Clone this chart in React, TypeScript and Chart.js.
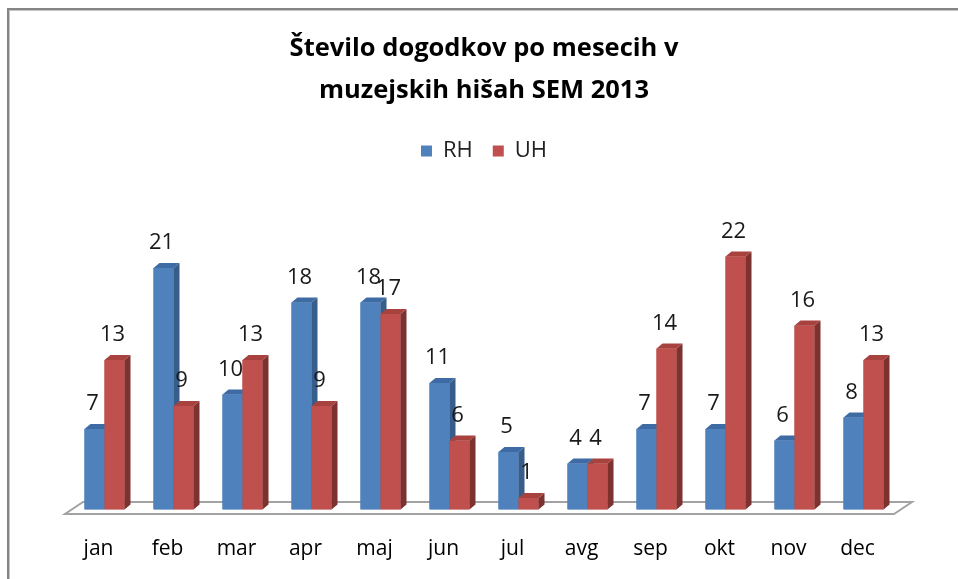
import React, { useEffect, useRef } from "react";
import { Chart, registerables } from "chart.js";

Chart.register(...registerables);

const TITLE_LINES = ["Število dogodkov po mesecih v", "muzejskih hišah SEM 2013"];
const CATEGORIES = ["jan", "feb", "mar", "apr", "maj", "jun", "jul", "avg", "sep", "okt", "nov", "dec"];
const SERIES_NAMES = ["RH", "UH"];
const RH_VALUES = [7, 21, 10, 18, 18, 11, 5, 4, 7, 7, 6, 8];
const UH_VALUES = [13, 9, 13, 9, 17, 6, 1, 4, 14, 22, 16, 13];
const Y_MIN = 0;
const Y_MAX = 25;

const FONT = "'Open Sans', 'DejaVu Sans', sans-serif";
const FACES = [
  { front: "#4F81BD", side: "#385D8A", top: "#3E6BA3" },
  { front: "#C0504D", side: "#7E3230", top: "#A7423F" },
];
const DEPTH_X = 6;
const DEPTH_Y = 5;
const X_AXIS_H = 69.5;
const LEGEND_GAP = 50;

const bar3dPlugin = {
  id: "bar3d",
  beforeDatasetsDraw(chart: any) {
    const { ctx, chartArea, scales } = chart;
    const y0 = scales.y.getPixelForValue(0);
    const fl = chartArea.left - 5;
    const fr = chartArea.right - 4;
    const fy = y0 + 4.5;
    const by = y0 - 7.5;
    const dx = 18;
    ctx.save();
    ctx.fillStyle = "#ffffff";
    ctx.strokeStyle = "#A3A3A3";
    ctx.lineWidth = 2;
    ctx.beginPath();
    ctx.moveTo(fl, fy);
    ctx.lineTo(fr, fy);
    ctx.lineTo(fr + dx, by);
    ctx.lineTo(fl + dx, by);
    ctx.closePath();
    ctx.fill();
    ctx.stroke();
    ctx.restore();
  },
  afterDatasetsDraw(chart: any) {
    const { ctx } = chart;
    ctx.save();
    chart.data.datasets.forEach((ds: any, di: number) => {
      const meta = chart.getDatasetMeta(di);
      const face = FACES[di];
      meta.data.forEach((bar: any) => {
        const { x, y, base, width } = bar.getProps(["x", "y", "base", "width"], true);
        const l = x - width / 2;
        const r = x + width / 2;
        ctx.fillStyle = face.front;
        ctx.fillRect(l, y, r - l, base - y);
        ctx.fillStyle = face.side;
        ctx.beginPath();
        ctx.moveTo(r, y);
        ctx.lineTo(r + DEPTH_X, y - DEPTH_Y);
        ctx.lineTo(r + DEPTH_X, base - DEPTH_Y);
        ctx.lineTo(r, base);
        ctx.closePath();
        ctx.fill();
        ctx.fillStyle = face.top;
        ctx.beginPath();
        ctx.moveTo(l, y);
        ctx.lineTo(l + DEPTH_X, y - DEPTH_Y);
        ctx.lineTo(r + DEPTH_X, y - DEPTH_Y);
        ctx.lineTo(r, y);
        ctx.closePath();
        ctx.fill();
      });
    });
    ctx.fillStyle = "#1a1a1a";
    ctx.font = `22px ${FONT}`;
    ctx.textAlign = "center";
    ctx.textBaseline = "bottom";
    chart.data.datasets.forEach((ds: any, di: number) => {
      const meta = chart.getDatasetMeta(di);
      meta.data.forEach((bar: any, i: number) => {
        const { x, y } = bar.getProps(["x", "y"], true);
        ctx.fillText(String(ds.data[i]), x - 2, y - 14);
      });
    });
    ctx.restore();
  },
};

export default function App() {
  const ref = useRef<HTMLCanvasElement>(null);
  useEffect(() => {
    const chart = new Chart(ref.current as HTMLCanvasElement, {
      type: "bar",
      data: {
        labels: CATEGORIES,
        datasets: [
          { label: SERIES_NAMES[0], data: RH_VALUES, backgroundColor: FACES[0].front },
          { label: SERIES_NAMES[1], data: UH_VALUES, backgroundColor: FACES[1].front },
        ],
      },
      options: {
        responsive: false,
        animation: false,
        events: [],
        datasets: { bar: { categoryPercentage: 0.58, barPercentage: 1 } } as any,
        layout: { padding: { left: 70, right: 60, top: 27.6, bottom: 0 } },
        plugins: {
          title: {
            display: true,
            text: TITLE_LINES,
            color: "#000",
            font: { family: FONT, size: 25.5, weight: "bold", lineHeight: 1.647 },
            padding: { top: 0, bottom: 8.4 },
          },
          legend: {
            position: "top",
            labels: {
              boxWidth: 11,
              boxHeight: 11,
              color: "#222",
              font: { family: FONT, size: 22 },
              padding: 20,
            },
          },
          tooltip: { enabled: false },
        },
        scales: {
          x: {
            grid: { display: false },
            border: { display: false },
            ticks: { color: "#000", font: { family: FONT, size: 21 }, padding: 19, labelOffset: -6 },
            afterFit: (s: any) => {
              s.height = X_AXIS_H;
            },
          },
          gap: {
            type: "linear",
            position: "top",
            display: true,
            grid: { display: false },
            border: { display: false },
            ticks: { display: false },
            afterFit: (s: any) => {
              s.height = LEGEND_GAP;
            },
          },
          y: { display: false, min: Y_MIN, max: Y_MAX },
        } as any,
      },
      plugins: [bar3dPlugin],
    });
    return () => chart.destroy();
  }, []);
  return (
    <div>
      <div
        style={{
          position: "fixed",
          left: 7,
          top: 8,
          width: 1000,
          height: 1000,
          borderLeft: "2px solid #858585",
          borderTop: "2px solid #858585",
          boxShadow: "inset 1px 1px 0 #c4c4c4",
        }}
      />
      <canvas
        ref={ref}
        width={958}
        height={579}
        style={{ position: "fixed", left: 0, top: 0, display: "block" }}
      />
    </div>
  );
}
